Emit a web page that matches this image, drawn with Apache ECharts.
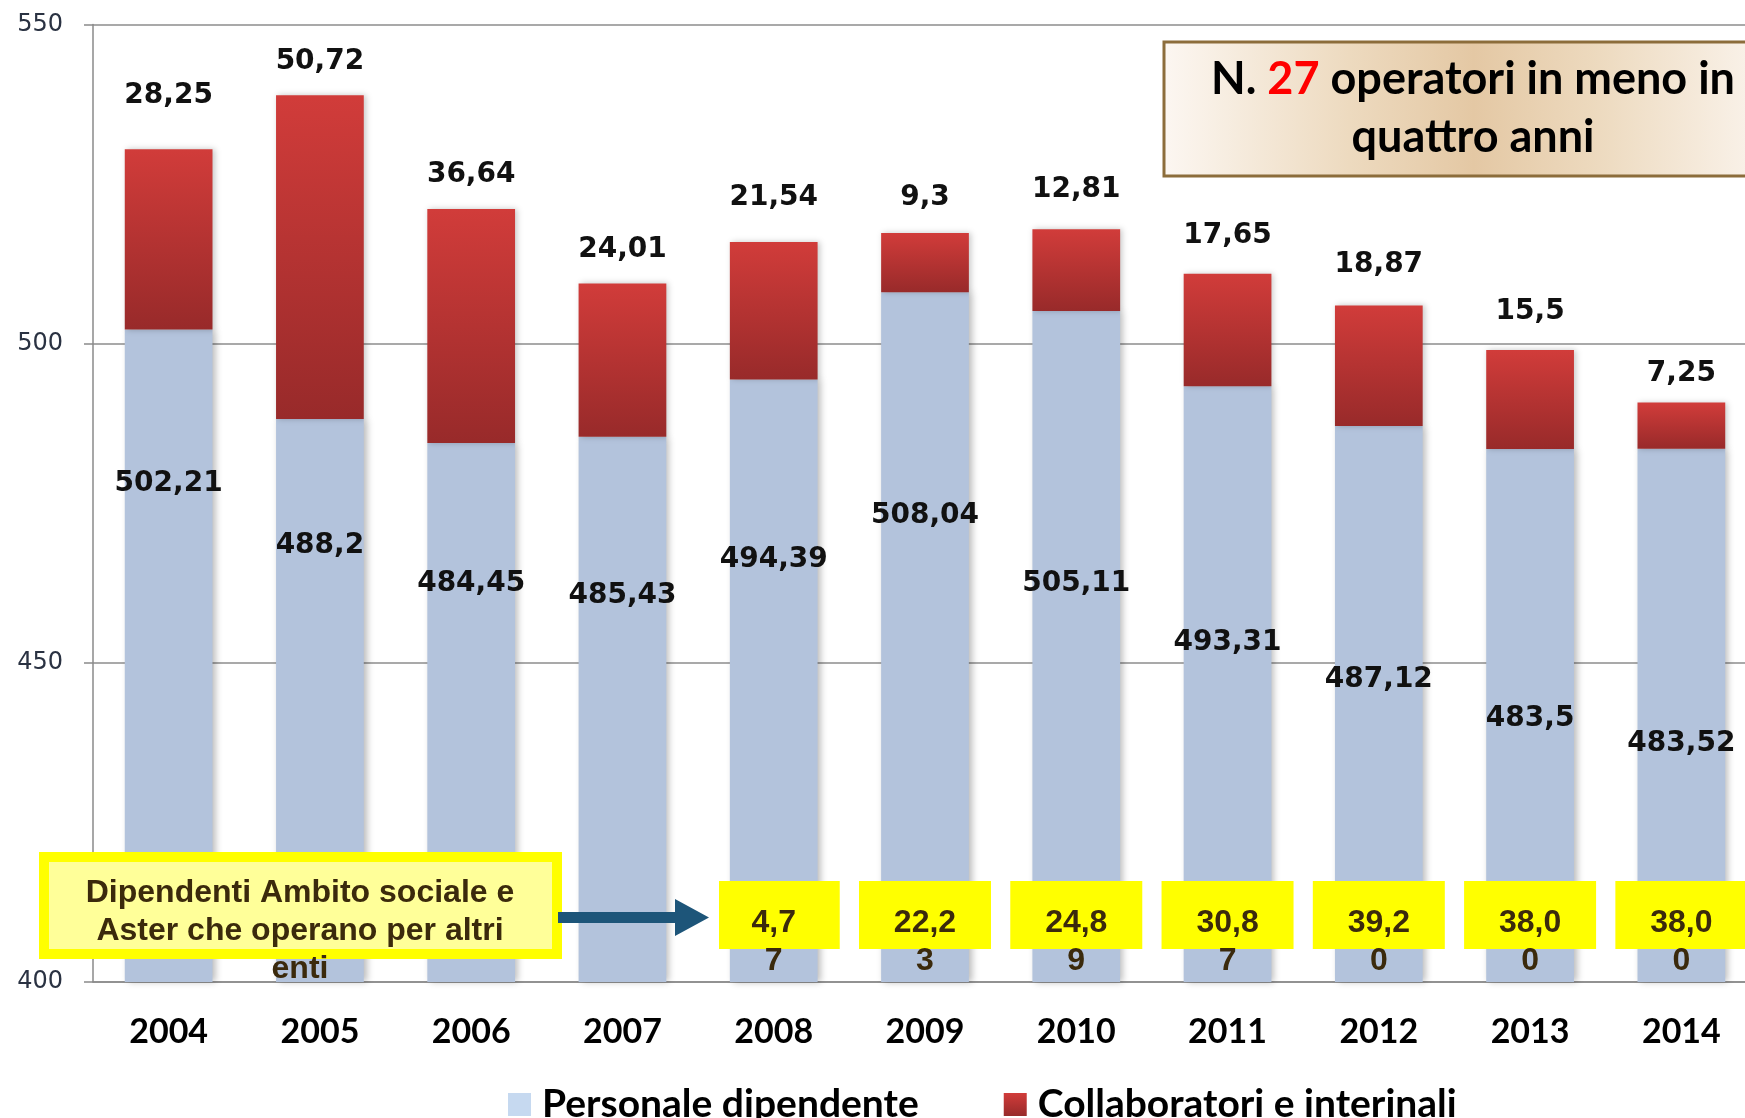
<!DOCTYPE html>
<html>
<head>
<meta charset="utf-8">
<title>Personale dipendente e collaboratori 2004-2014</title>
<script src="https://cdn.jsdelivr.net/npm/echarts@6/dist/echarts.min.js"></script>
<style>
  html, body { margin: 0; padding: 0; background: #fff; }
  #chart { width: 1745px; height: 1118px; }
</style>
</head>
<body>
<div id="chart"></div>
<script>
// anni
const years = ['2004', '2005', '2006', '2007', '2008', '2009', '2010', '2011', '2012', '2013', '2014'];
// Personale dipendente
const personale = [502.21, 488.2, 484.45, 485.43, 494.39, 508.04, 505.11, 493.31, 487.12, 483.5, 483.52];
// Collaboratori e interinali
const collaboratori = [28.25, 50.72, 36.64, 24.01, 21.54, 9.3, 12.81, 17.65, 18.87, 15.5, 7.25];
// Dipendenti Ambito sociale e Aster che operano per altri enti
const altriEnti = [null, null, null, null, 4.77, 22.23, 24.89, 30.87, 39.20, 38.00, 38.00];
// asse y
const yTicks = [400, 450, 500, 550];

// label placement as in the original (px, relative to the top of each segment)
const innerLabelDrop = [154, 127, 141, 159, 180, 223, 273, 256, 254, 270, 295];
const topLabelRise = [54, 34, 34, 34, 44, 35, 40, 38, 41, 38, 29];
const arrowTipX = 709;

const blue = '#b3c3dc';
const redGrad = new echarts.graphic.LinearGradient(0, 0, 0, 1, [
  { offset: 0, color: '#d13c3a' },
  { offset: 1, color: '#982a2a' }
]);

function comma(v) {
  return String(v).replace('.', ',');
}

const mychart = echarts.init(document.getElementById('chart'), null, { renderer: 'canvas' });

mychart.setOption({
  animation: false,
  grid: {
    left: 93,
    top: 24.5,
    right: -12,
    bottom: 136,
    outerBoundsMode: 'none'
  },
  legend: {
    left: 503,
    top: 1080,
    itemWidth: 23,
    itemHeight: 23,
    itemGap: 85,
    icon: 'rect',
    itemStyle: { shadowBlur: 0, shadowOffsetX: 0 },
    textStyle: {
      fontFamily: 'Lato',
      fontWeight: 'bold',
      fontSize: 39,
      color: '#000',
      padding: [0, 0, 0, 6]
    },
    data: [
      { name: 'Personale dipendente', itemStyle: { color: '#c6d9f0' } },
      { name: 'Collaboratori e interinali' }
    ]
  },
  xAxis: {
    type: 'category',
    data: years,
    axisLine: { lineStyle: { color: '#8a8a8a', width: 1.5 } },
    axisTick: { length: 12, lineStyle: { color: '#8a8a8a', width: 1.5 } },
    axisLabel: {
      margin: 33,
      fontFamily: 'Lato',
      fontWeight: 'bold',
      fontSize: 34,
      color: '#000'
    }
  },
  yAxis: {
    type: 'value',
    min: yTicks[0],
    max: yTicks[yTicks.length - 1],
    interval: 50,
    axisLine: { show: true, lineStyle: { color: '#8a8a8a', width: 1.5 } },
    axisTick: { show: true, length: 9, lineStyle: { color: '#8a8a8a', width: 1.5 } },
    splitLine: { lineStyle: { color: '#8c8c8c', width: 1.5 } },
    axisLabel: {
      margin: 30,
      fontFamily: 'DejaVu Sans',
      fontSize: 24,
      color: '#2a3242'
    }
  },
  series: [
    {
      name: 'Personale dipendente',
      type: 'bar',
      stack: 'tot',
      barWidth: '58%',
      itemStyle: {
        color: blue,
        shadowColor: 'rgba(0,0,0,0.28)',
        shadowBlur: 7,
        shadowOffsetX: 3
      },
      label: {
        show: true,
        fontFamily: 'DejaVu Sans',
        fontWeight: 'bold',
        fontSize: 28,
        lineHeight: 32,
        color: '#111',
        formatter: p => comma(p.value)
      },
      data: personale.map((v, i) => ({
        value: v,
        label: { position: ['50%', innerLabelDrop[i]], align: 'center', verticalAlign: 'middle' }
      }))
    },
    {
      name: 'Collaboratori e interinali',
      type: 'bar',
      stack: 'tot',
      barWidth: '58%',
      itemStyle: {
        color: redGrad,
        shadowColor: 'rgba(0,0,0,0.22)',
        shadowBlur: 6,
        shadowOffsetX: 2
      },
      label: {
        show: true,
        fontFamily: 'DejaVu Sans',
        fontWeight: 'bold',
        fontSize: 28,
        lineHeight: 32,
        color: '#111',
        formatter: p => comma(p.value)
      },
      data: collaboratori.map((v, i) => ({
        value: v,
        label: { position: ['50%', -topLabelRise[i]], align: 'center', verticalAlign: 'middle' }
      }))
    },
    {
      name: 'altri enti',
      type: 'custom',
      z: 10,
      renderItem: function (params, api) {
        const base = api.coord([api.value(0), yTicks[0]]);
        const s = api.value(1).toFixed(2).replace('.', ',');
        const txt = s.slice(0, -1) + '\n' + s.slice(-1);
        const x0 = Math.max(base[0] - 66, arrowTipX + 10);
        const x1 = base[0] + 66;
        return {
          type: 'group',
          children: [
            {
              type: 'rect',
              shape: { x: x0, y: base[1] - 101, width: x1 - x0, height: 68 },
              style: { fill: '#ffff00' }
            },
            {
              type: 'text',
              style: {
                text: txt,
                x: base[0],
                y: base[1] - 40,
                align: 'center',
                verticalAlign: 'middle',
                fontFamily: 'Liberation Sans',
                fontWeight: 'bold',
                fontSize: 32,
                lineHeight: 38,
                fill: '#3b2a0c'
              }
            }
          ]
        };
      },
      data: altriEnti.map((v, i) => (v == null ? null : [i, v])).filter(Boolean)
    }
  ],
  graphic: [
    {
      type: 'rect',
      z: 20,
      shape: { x: 1164, y: 42, width: 620, height: 134 },
      style: {
        fill: new echarts.graphic.LinearGradient(0, 0, 1, 0, [
          { offset: 0, color: '#fcf7f2' },
          { offset: 0.3, color: '#eddabf' },
          { offset: 0.5, color: '#e4c8a4' },
          { offset: 0.7, color: '#eddabf' },
          { offset: 1, color: '#fcf7f2' }
        ]),
        stroke: '#8c6d3b',
        lineWidth: 3
      }
    },
    {
      type: 'text',
      z: 21,
      style: {
        text: '{b|N. }{r|27}{b| operatori in meno in}\n{b|quattro anni}',
        x: 1473,
        y: 108,
        align: 'center',
        verticalAlign: 'middle',
        rich: {
          b: { fontFamily: 'Lato', fontWeight: 'bold', fontSize: 45, lineHeight: 58, fill: '#000' },
          r: { fontFamily: 'Lato', fontWeight: 'bold', fontSize: 45, lineHeight: 58, fill: '#ff0000' }
        }
      }
    },
    {
      type: 'rect',
      z: 20,
      shape: { x: 44, y: 857, width: 513, height: 97 },
      style: { fill: '#ffff99', stroke: '#ffff00', lineWidth: 10 }
    },
    {
      type: 'text',
      z: 21,
      style: {
        text: 'Dipendenti Ambito sociale e\nAster che operano per altri\nenti',
        x: 300,
        y: 931,
        align: 'center',
        verticalAlign: 'middle',
        fontFamily: 'Liberation Sans',
        fontWeight: 'bold',
        fontSize: 32,
        lineHeight: 38,
        fill: '#3b2a0c'
      }
    },
    {
      type: 'polygon',
      z: 21,
      shape: {
        points: [[558, 912], [675, 912], [675, 899], [arrowTipX, 917.5], [675, 936], [675, 923], [558, 923]]
      },
      style: { fill: '#1d5579' }
    }
  ]
});
</script>
</body>
</html>
